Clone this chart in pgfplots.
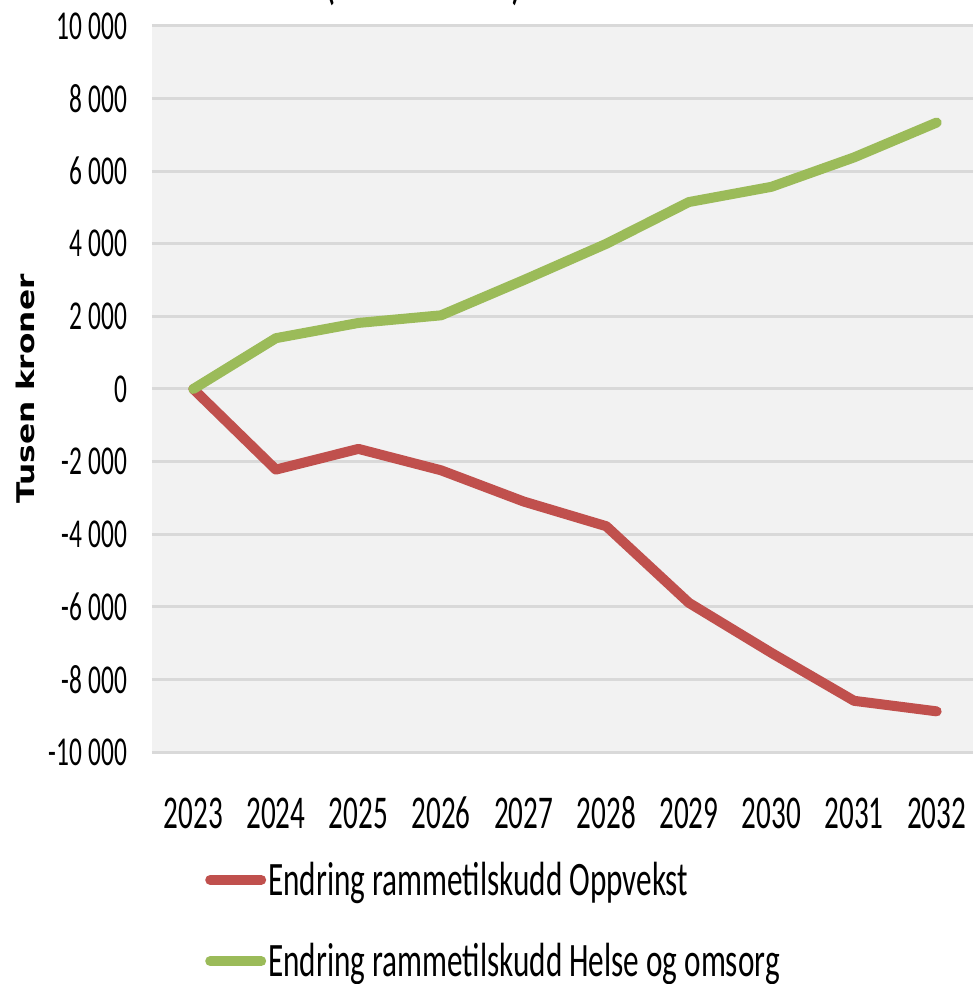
\documentclass[border=0pt]{standalone}
\usepackage{fontspec}
\setmainfont{Carlito}[FakeStretch=0.62, Numbers=Lining]
\newfontfamily\legfont{Carlito}[FakeStretch=0.65]
\newfontfamily\labelfont{DejaVu Sans}
\usepackage{pgfplots}
\pgfplotsset{compat=1.18}
\definecolor{cRed}{HTML}{C0504D}
\definecolor{cGreen}{HTML}{9BBB59}
\definecolor{cGrid}{HTML}{D9D9D9}
\definecolor{cBg}{HTML}{F2F2F2}
\begin{document}
\begin{tikzpicture}
\begin{axis}[
  at={(0,0)}, anchor=south west,
  scale only axis,
  width=410.5pt, height=363pt,
  xmin=2022.5, xmax=2032.44,
  ymin=-10000, ymax=10000,
  scaled x ticks=false, scaled y ticks=false,
  xtick={2023,2024,2025,2026,2027,2028,2029,2030,2031,2032},
  xticklabels={2023,2024,2025,2026,2027,2028,2029,2030,2031,2032},
  ytick={-10000,-8000,-6000,-4000,-2000,0,2000,4000,6000,8000,10000},
  yticklabels={-10\,000,-8\,000,-6\,000,-4\,000,-2\,000,0,2\,000,4\,000,6\,000,8\,000,10\,000},
  major tick length=0pt,
  axis line style={draw=none},
  axis background/.style={fill=cBg},
  ymajorgrids,
  major grid style={color=cGrid, line width=1.5pt},
  xticklabel style={font=\fontsize{23.5}{26}\selectfont, anchor=base, yshift=-38pt},
  yticklabel style={font=\fontsize{20.5}{24}\selectfont, anchor=east, inner xsep=0pt, xshift=-12pt},
  legend style={at={(rel axis cs:0.057,-0.145)}, anchor=north west, draw=none, fill=none,
    font=\legfont\fontsize{24}{26}\selectfont, row sep=22.5pt,
    nodes={inner xsep=1pt, inner ysep=0pt}},
  legend cell align=left,
  legend image code/.code={\draw[#1, line cap=round] (0pt,0pt) -- (25.5pt,0pt);},
  clip=false,
]
\addplot[cRed, line width=5pt, line join=round, line cap=round] coordinates {
  (2023,0) (2024,-2220) (2025,-1650) (2026,-2240) (2027,-3100)
  (2028,-3780) (2029,-5890) (2030,-7270) (2031,-8590) (2032,-8880)};
\addlegendentry{Endring rammetilskudd Oppvekst}
\addplot[cGreen, line width=5pt, line join=round, line cap=round] coordinates {
  (2023,0) (2024,1400) (2025,1820) (2026,2030) (2027,3000)
  (2028,4000) (2029,5150) (2030,5570) (2031,6380) (2032,7340)};
\addlegendentry{Endring rammetilskudd Helse og omsorg}
\node[rotate=90, anchor=center] at ([xshift=-63.5pt]rel axis cs:0,0.5)
  {\scalebox{1}[0.78]{\labelfont\bfseries\fontsize{15.6}{18}\selectfont Tusen kroner}};
\end{axis}
\node[anchor=base, font=\fontsize{30}{32}\selectfont] at (89pt,377pt) {(};
\node[anchor=base, font=\fontsize{30}{32}\selectfont] at (182.5pt,377pt) {)};
\pgfresetboundingbox
\path[use as bounding box] (-76pt,-116pt) rectangle (410.5pt,376pt);
\end{tikzpicture}
\end{document}
